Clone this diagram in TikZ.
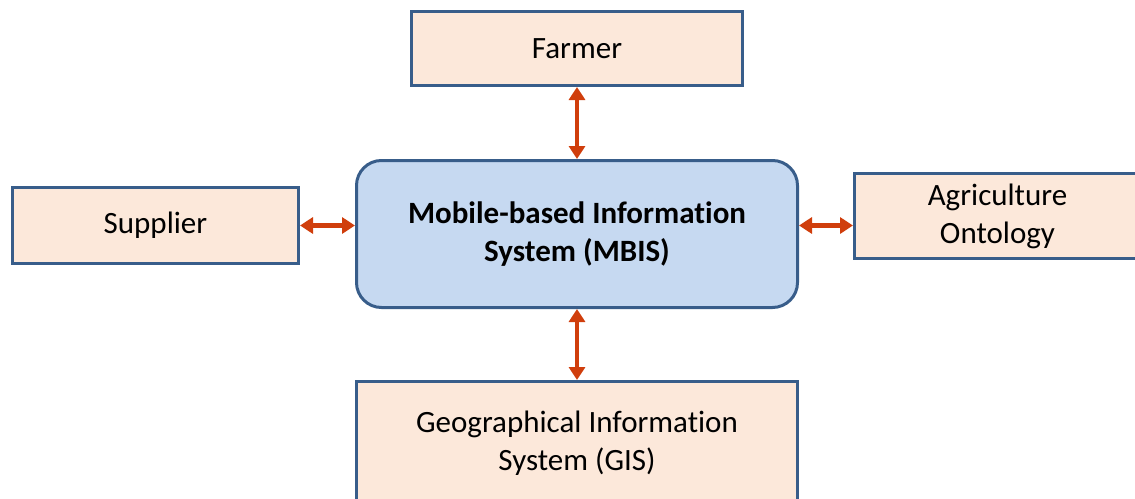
\documentclass[tikz,border=0pt]{standalone}
\usepackage{fontspec}
\setmainfont{Carlito}[Ligatures=NoCommon]
\usetikzlibrary{arrows.meta}

\definecolor{edgeblue}{RGB}{56,93,138}
\definecolor{peach}{RGB}{252,232,218}
\definecolor{paleblue}{RGB}{198,217,241}
\definecolor{linkred}{RGB}{208,62,12}

\tikzset{
  actor/.style={draw=edgeblue, line width=3pt, fill=peach, inner sep=0pt,
    align=center, font=\fontsize{31}{38}\selectfont},
  core/.style={actor, fill=paleblue, rounded corners=25pt,
    font=\fontsize{31}{38}\selectfont\bfseries},
  link/.style={draw=linkred, line width=4.5pt,
    {Triangle[width=16pt,length=13pt]}-{Triangle[width=16pt,length=13pt]}}
}

\begin{document}
\begin{tikzpicture}[x=1pt,y=-1pt]
  \useasboundingbox (0,0) rectangle (1135,498);
  \clip (0,0) rectangle (1135,498);

  % central system
  \node[core, minimum width=441pt, minimum height=147pt] (mbis) at (577,234)
    {Mobile-based Information\\System (MBIS)};

  % surrounding parties
  \node[actor, minimum width=331pt, minimum height=74pt] (farmer) at (577,48.5) {Farmer};
  \node[actor, minimum width=286pt, minimum height=76pt] (supplier) at (155.5,225.5) {Supplier};
  \node[actor, minimum width=286pt, minimum height=85pt] (onto) at (997.5,216)
    {Agriculture\\Ontology};
  \node[actor, minimum width=441pt, minimum height=123pt] (gis) at (577,443)
    {Geographical Information\\System (GIS)};

  % two-way links
  \draw[link] (farmer.south) -- (mbis.north);
  \draw[link] (mbis.south) -- (gis.north);
  \draw[link] (supplier.east) -- (supplier.east -| mbis.west);
  \draw[link] (supplier.east -| mbis.east) -- (supplier.east -| onto.west);
\end{tikzpicture}
\end{document}
